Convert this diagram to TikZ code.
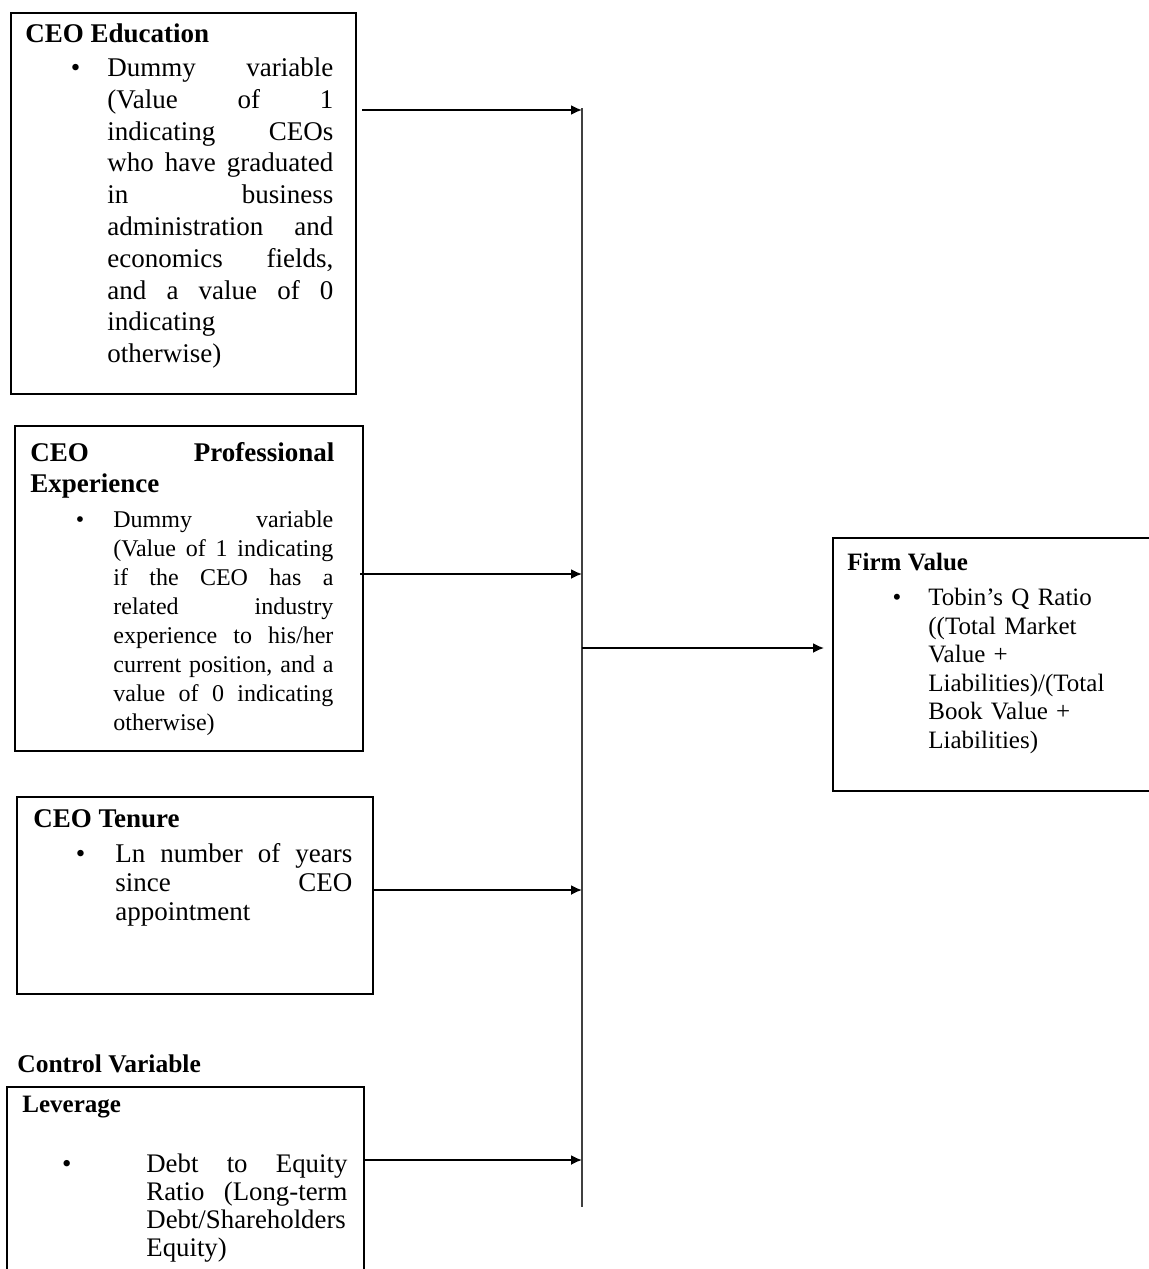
\documentclass[tikz,border=0pt]{standalone}
\usepackage{fontspec}
\setmainfont{Liberation Serif}
\usetikzlibrary{arrows.meta}

\newcommand{\bul}[1]{\noindent\llap{\textbullet\hspace{#1}}\rule{0pt}{10pt}}
\newcommand{\tstrut}{\noindent\rule{0pt}{10pt}}

\begin{document}
\begin{tikzpicture}[x=0.5pt,y=-0.5pt,
  frame/.style={draw,line width=0.9pt,inner sep=0pt,anchor=north west},
  txt/.style={anchor=north west,inner sep=0pt,align=justify,
    execute at begin node={\tolerance=10000\hyphenpenalty=10000}},
  head/.style={anchor=north west,inner sep=0pt},
  arr/.style={line width=0.9pt,-{Latex[length=5.5pt,width=5pt]}}]
\useasboundingbox (0,0) rectangle (1148,1269);

\node[frame,minimum width=172.5pt,minimum height=190.5pt] (edu) at (10,12) {};
\node[head,font=\bfseries\fontsize{13.5}{16}\selectfont] (eduHead) at (25,22) {\tstrut CEO Education};
\node[txt,text width=113pt,font=\fontsize{13.5}{15.9}\selectfont] (eduText) at (107,56)
{\bul{13.5pt}Dummy variable\linebreak (Value of 1\linebreak indicating CEOs\linebreak who have graduated\linebreak in business\linebreak administration and\linebreak economics fields,\linebreak and a value of 0\linebreak indicating\hfill\break otherwise)};

\node[frame,minimum width=174pt,minimum height=162.5pt] (exp) at (14,425) {};
\node[txt,text width=152pt,font=\bfseries\fontsize{13.5}{15.5}\selectfont] (expHead) at (30,441)
{\tstrut CEO Professional\linebreak Experience};
\node[txt,text width=110pt,font=\fontsize{12}{14.5}\selectfont] (expText) at (113,507)
{\bul{14.5pt}Dummy variable\linebreak (Value of 1 indicating\linebreak if the CEO has a\linebreak related industry\linebreak experience to his/her\linebreak current position, and a\linebreak value of 0 indicating\linebreak otherwise)};

\node[frame,minimum width=178pt,minimum height=98.5pt] (ten) at (16,796) {};
\node[head,font=\bfseries\fontsize{13.5}{16}\selectfont] (tenHead) at (33,807) {\tstrut CEO Tenure};
\node[txt,text width=118.5pt,font=\fontsize{13.5}{14.5}\selectfont] (tenText) at (115,842)
{\bul{15pt}Ln number of years\linebreak since CEO\linebreak appointment};

\node[head,font=\bfseries\fontsize{12.75}{15}\selectfont] (ctrlHead) at (17,1052) {\tstrut Control Variable};
\node[frame,minimum width=178.5pt,minimum height=107pt] (lev) at (6,1086) {};
\node[head,font=\bfseries\fontsize{12.5}{15}\selectfont] (levHead) at (22,1092) {\tstrut Leverage};
\node[txt,text width=100.5pt,font=\fontsize{13.4}{14}\selectfont] (levText) at (146,1152)
{\bul{37.5pt}Debt to Equity\linebreak Ratio (Long-term\linebreak Debt/Shareholders\linebreak Equity)};

\node[frame,minimum width=164pt,minimum height=126.5pt] (firm) at (832,537) {};
\node[head,font=\bfseries\fontsize{12.5}{15}\selectfont] (firmHead) at (847,550) {\tstrut Firm Value};
\node[txt,align=left,text width=110pt,font=\fontsize{12.5}{14.3}\selectfont] (firmText) at (928,585)
{\bul{13.5pt}Tobin’s Q Ratio\\ ((Total Market\\ Value +\\ Liabilities)/(Total\\ Book Value +\\ Liabilities)};

\coordinate (trunkTop) at (582,108);
\coordinate (trunkBot) at (582,1207);
\coordinate (split) at (582,648);
\draw[line width=0.9pt,black!75] (trunkTop) -- (trunkBot);

\coordinate (eduOut) at (362,110);
\coordinate (expOut) at (360,574);
\coordinate (tenOut) at (372,890);
\coordinate (levOut) at (364,1160);
\draw[arr] (eduOut) -- (eduOut -| trunkTop);
\draw[arr] (expOut) -- (expOut -| trunkTop);
\draw[arr] (tenOut) -- (tenOut -| trunkTop);
\draw[arr] (levOut) -- (levOut -| trunkTop);
\draw[arr,shorten >=4pt] (split) -- (split -| firm.west);

\end{tikzpicture}
\end{document}
